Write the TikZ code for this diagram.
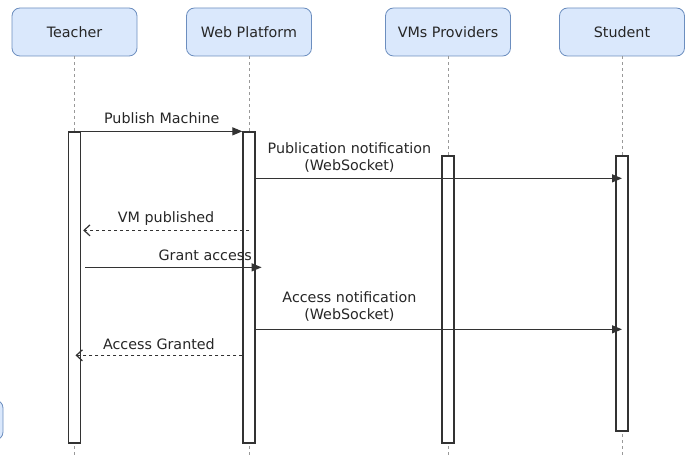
\documentclass[tikz,border=0pt]{standalone}
\usepackage{fontspec}
\setmainfont{DejaVu Sans}
\usetikzlibrary{arrows,arrows.meta,positioning,calc}

\definecolor{actorfill}{HTML}{DAE8FC}
\definecolor{actorline}{HTML}{6C8EBF}
\definecolor{msgline}{HTML}{333333}

\begin{document}
\begin{tikzpicture}[x=1pt,y=-1pt,>=stealth',thin,font=\fontsize{14.3}{17}\selectfont]
\tikzstyle{actor}=[draw=actorline,fill=actorfill,rounded corners=8pt,line width=0.8pt,minimum width=125pt,minimum height=48pt,inner sep=0pt,text=black!85]
\tikzstyle{bar}=[draw=msgline,fill=white,line width=1.3pt,minimum width=12pt,inner sep=0pt]
\tikzstyle{life}=[draw=black!40,line width=0.8pt,dash pattern=on 3pt off 3pt]
\tikzstyle{call}=[draw=msgline,line width=1.2pt,-{Triangle[length=10pt,width=8pt]}]
\tikzstyle{reply}=[draw=msgline,line width=1.2pt,dash pattern=on 3pt off 3pt,-{Straight Barb[length=6pt,width=11pt]}]
\tikzstyle{lbl}=[above=7pt,inner sep=0pt,text depth=0pt,align=center,text=black!85]

\useasboundingbox (0,0) rectangle (689,457);

% actors
\node[actor]            (T) at (74.5,32) {Teacher};
\node[actor]            (W) [right of=T, node distance=174.5pt] {Web Platform};
\node[actor]            (V) [right of=W, node distance=199pt] {VMs Providers};
\node[actor]            (S) [right of=V, node distance=174pt] {Student};
\node[actor,minimum width=60pt,minimum height=40pt] (X) at (-27,420) {};

% lifelines
\foreach \a in {T,W,V,S}
  \draw[life] (\a.south) -- ($(\a.south)+(0,401)$);

% activation bars
\node[bar,minimum height=311pt] (Tb) [below of=T, node distance=255.5pt] {};
\node[bar,minimum height=311pt] (Wb) [below of=W, node distance=255.5pt] {};
\node[bar,minimum height=287pt] (Vb) [below of=V, node distance=267.5pt] {};
\node[bar,minimum height=275pt] (Sb) [below of=S, node distance=261.5pt] {};

% messages
\draw[call] (Tb.north east) -- (Wb.north west)
  node[lbl,midway] {Publish Machine};
\draw[call] ($(Wb.north east)+(0,47)$) -- ($(Sb.north)+(0,23)$)
  node[lbl,pos=0.256] {Publication notification\\(WebSocket)};
\draw[reply] ($(Wb.north)+(0,99)$) -- ($(Tb.north east)+(2,99)$)
  node[lbl,midway] {VM published};
\draw[call] ($(Tb.north east)+(4,136)$) -- ($(Wb.north east)+(6,136)$)
  node[lbl,pos=0.68,above=6pt] {Grant access};
\draw[call] ($(Wb.north east)+(0,198)$) -- ($(Sb.north)+(0,174)$)
  node[lbl,pos=0.256,above=9pt] {Access notification\\(WebSocket)};
\draw[reply] ($(Wb.north west)+(0,224)$) -- ($(Tb.north)+(1,224)$)
  node[lbl,midway,above=5pt] {Access Granted};
\end{tikzpicture}
\end{document}
